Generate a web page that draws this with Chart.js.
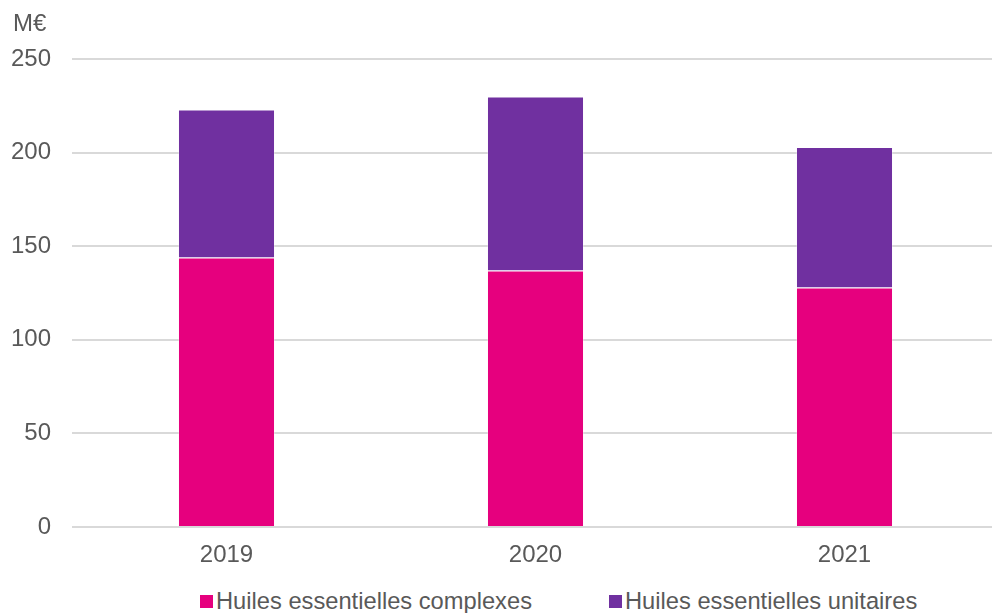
<!DOCTYPE html>
<html>
<head>
<meta charset="utf-8">
<script src="https://cdn.jsdelivr.net/npm/chart.js@4/dist/chart.umd.min.js"></script>
<style>
    html, body { margin: 0; padding: 0; background: #fff; overflow: hidden; }
    .wrap { position: relative; width: 992px; height: 613px; overflow: hidden; }
    .chart-box { position: absolute; left: 0; top: 0; width: 999px; height: 575px; }
    #legend { position: absolute; left: 200px; top: 585px; height: 32px; display: flex;
              font-family: "Liberation Sans", Arial, sans-serif; font-size: 23.7px; color: #595959; line-height: 32px; }
    #legend .item { display: flex; align-items: center; margin-right: 77px; white-space: nowrap; }
    #legend .swatch { width: 13px; height: 13px; margin-right: 3px; }
</style>
</head>
<body>
<div class="wrap">
    <div class="chart-box"><canvas id="chart"></canvas></div>
    <div id="legend"></div>
</div>
<script>
const years = ['2019', '2020', '2021'];
const complexes = [144, 137, 128];
const unitaires = [79, 93, 75];
const seriesNames = ['Huiles essentielles complexes', 'Huiles essentielles unitaires'];
const yTicks = [0, 50, 100, 150, 200, 250];
const unitLabel = 'M€';

const textColor = '#595959';
const fontFamily = '"Liberation Sans", Arial, sans-serif';

// draws the unit label in the top left corner
const unitPlugin = {
    id: 'unitLabel',
    afterDraw(chart) {
        const ctx = chart.ctx;
        ctx.save();
        ctx.font = '24px ' + fontFamily;
        ctx.fillStyle = textColor;
        ctx.textAlign = 'left';
        ctx.textBaseline = 'middle';
        ctx.fillText(unitLabel, 13, 24);
        ctx.restore();
    }
};

const chart = new Chart(document.getElementById('chart').getContext('2d'), {
    type: 'bar',
    data: {
        labels: years,
        datasets: [
            {
                label: seriesNames[0],
                data: complexes,
                backgroundColor: '#E6007E',
                borderColor: 'rgba(255, 255, 255, 0.3)',
                borderWidth: 1
            },
            {
                label: seriesNames[1],
                data: unitaires,
                backgroundColor: '#7030A0',
                borderColor: 'rgba(255, 255, 255, 0.3)',
                borderWidth: 1
            }
        ]
    },
    options: {
        responsive: true,
        maintainAspectRatio: false,
        animation: false,
        layout: { padding: { top: 59, right: 0, bottom: 0, left: 0 } },
        datasets: { bar: { categoryPercentage: 1, barPercentage: 0.314 } },
        plugins: {
            legend: { display: false },
            tooltip: { enabled: false }
        },
        scales: {
            x: {
                stacked: true,
                grid: { display: false, drawTicks: false },
                border: { display: false },
                ticks: { color: textColor, font: { family: fontFamily, size: 24 }, padding: 14 },
                afterFit(scale) { scale.height = 48; }
            },
            y: {
                stacked: true,
                min: 0,
                max: 250,
                afterBuildTicks(scale) { scale.ticks = yTicks.map(v => ({ value: v })); },
                grid: { color: '#d9d9d9', lineWidth: 2, drawTicks: false },
                border: { display: false },
                ticks: { color: textColor, font: { family: fontFamily, size: 24 }, padding: 21 },
                afterFit(scale) { scale.width = 72; }
            }
        }
    },
    plugins: [unitPlugin]
});

// html legend built from the chart datasets
const legendEl = document.getElementById('legend');
chart.data.datasets.forEach(ds => {
    const item = document.createElement('div');
    item.className = 'item';
    const sw = document.createElement('span');
    sw.className = 'swatch';
    sw.style.background = ds.backgroundColor;
    const txt = document.createElement('span');
    txt.textContent = ds.label;
    item.appendChild(sw);
    item.appendChild(txt);
    legendEl.appendChild(item);
});
</script>
</body>
</html>
